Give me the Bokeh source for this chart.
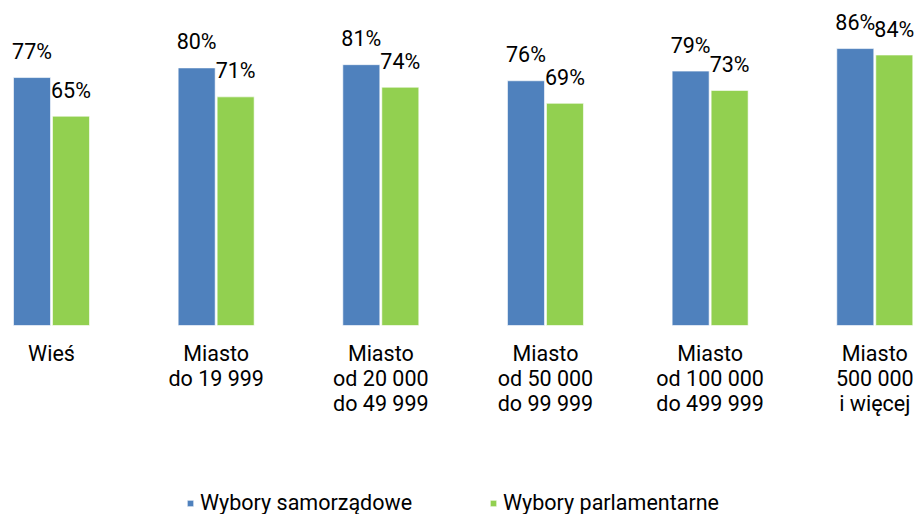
from bokeh.plotting import figure
from bokeh.models import Range1d, Legend, LegendItem, ColumnDataSource
from bokeh.core.properties import value
from bokeh.transform import dodge
from bokeh.embed import file_html
from bokeh.resources import INLINE

categories = ["Wieś", "Miasto\ndo 19 999", "Miasto\nod 20 000\ndo 49 999",
              "Miasto\nod 50 000\ndo 99 999", "Miasto\nod 100 000\ndo 499 999",
              "Miasto\n500 000\ni więcej"]
samorzadowe = [77, 80, 81, 76, 79, 86]
parlamentarne = [65, 71, 74, 69, 73, 84]
series_names = ["Wybory samorządowe", "Wybory parlamentarne"]

BLUE = "#4F81BD"
GREEN = "#92D050"
FONT = value("Roboto")
FS = "21.5px"

src = ColumnDataSource(dict(
    x=list(range(len(categories))),
    cat=categories,
    s=samorzadowe,
    p=parlamentarne,
    s_lbl=[f"{v}%" for v in samorzadowe],
    p_lbl=[f"{v}%" for v in parlamentarne],
))

p = figure(width=916, height=514, output_backend="svg", toolbar_location=None,
           x_range=Range1d(-0.3097, 5.2533), y_range=Range1d(-58.70, 100.93),
           x_axis_type=None, y_axis_type=None, min_border=0,
           outline_line_color=None, background_fill_color="white")
p.grid.visible = False

off = 0.1184
bw = 0.2247
r1 = p.vbar(x=dodge("x", -off, range=p.x_range), top="s", bottom=0, width=bw,
            source=src, fill_color=BLUE, line_color="#FFFFFF", line_alpha=0.6, line_width=1)
r2 = p.vbar(x=dodge("x", off, range=p.x_range), top="p", bottom=0, width=bw,
            source=src, fill_color=GREEN, line_color="#FFFFFF", line_alpha=0.6, line_width=1)

p.text(x=dodge("x", -off, range=p.x_range), y="s", text="s_lbl", source=src,
       text_align="center", text_baseline="alphabetic", y_offset=-26,
       text_font=FONT, text_font_size=FS, text_color="#000000")
p.text(x=dodge("x", off, range=p.x_range), y="p", text="p_lbl", source=src,
       text_align="center", text_baseline="alphabetic", y_offset=-26,
       text_font=FONT, text_font_size=FS, text_color="#000000")

p.text(x="x", y=0, text="cat", source=src, text_align="center",
       text_baseline="top", y_offset=16, text_line_height=1.0,
       text_font=FONT, text_font_size=FS, text_color="#000000")

legend = Legend(items=[LegendItem(label=series_names[0], renderers=[r1]),
                       LegendItem(label=series_names[1], renderers=[r2])],
                orientation="horizontal", location=(186, -1),
                glyph_width=8, glyph_height=8, label_standoff=6, spacing=0,
                label_width=289, padding=0, margin=0,
                border_line_color=None, background_fill_alpha=0,
                label_text_font="Roboto", label_text_font_size=FS,
                label_text_color="#000000")
p.add_layout(legend)

open("out.html", "w").write(file_html(p, INLINE))
